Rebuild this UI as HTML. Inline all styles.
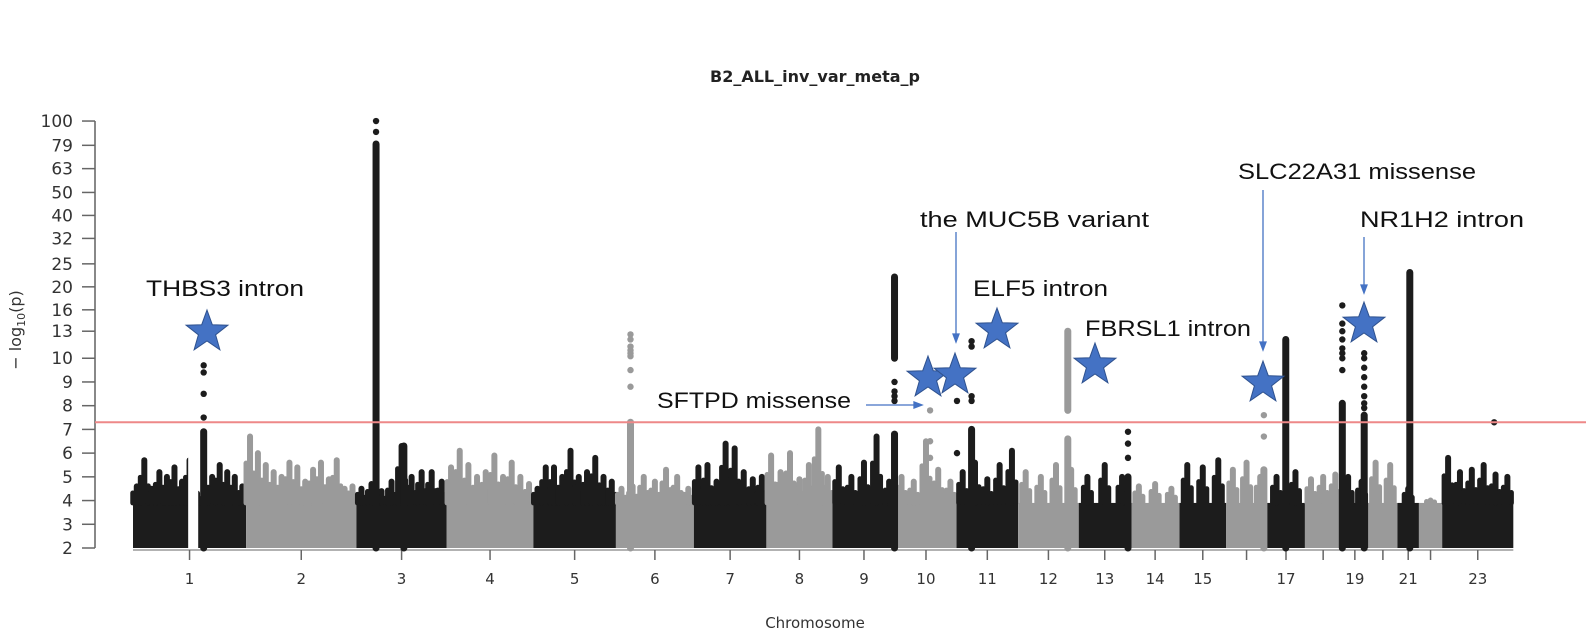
<!DOCTYPE html>
<html><head><meta charset="utf-8"><style>
html,body{margin:0;padding:0;background:#fff;}
svg{display:block;}
text{font-family:"DejaVu Sans","Liberation Sans",sans-serif;}
.ann{font-family:"Liberation Sans",sans-serif;font-size:22px;fill:#111;}
</style></head><body>
<svg id="chart" width="1586" height="636" viewBox="0 0 1586 636" xmlns="http://www.w3.org/2000/svg">
<text x="815" y="82" text-anchor="middle" font-weight="bold" font-size="16" fill="#222">B2_ALL_inv_var_meta_p</text>
<text x="815" y="628" text-anchor="middle" font-size="15" fill="#333">Chromosome</text>
<text transform="translate(21,330) rotate(-90)" text-anchor="middle" font-size="16" fill="#333">− log<tspan font-size="11" dy="4">10</tspan><tspan dy="-4">(p)</tspan></text>
<g id="axes"></g>
<g id="marks"></g>
<line id="sigline" x1="95" x2="1586" stroke="#ee8888" stroke-width="2"/>
<g id="annotations">
<text class="ann" x="146" y="296" textLength="158" lengthAdjust="spacingAndGlyphs">THBS3 intron</text>
<text class="ann" x="657" y="408" textLength="194" lengthAdjust="spacingAndGlyphs">SFTPD missense</text>
<text class="ann" x="920" y="227" textLength="229" lengthAdjust="spacingAndGlyphs">the MUC5B variant</text>
<text class="ann" x="973" y="296" textLength="135" lengthAdjust="spacingAndGlyphs">ELF5 intron</text>
<text class="ann" x="1085" y="336" textLength="166" lengthAdjust="spacingAndGlyphs">FBRSL1 intron</text>
<text class="ann" x="1238" y="179" textLength="238" lengthAdjust="spacingAndGlyphs">SLC22A31 missense</text>
<text class="ann" x="1360" y="227" textLength="164" lengthAdjust="spacingAndGlyphs">NR1H2 intron</text>
<g stroke="#4472c4" stroke-width="1.3" fill="#4472c4">
<line x1="866" y1="405" x2="916" y2="405"/><polygon points="922,405 914,402 914,408"/>
<line x1="956" y1="232" x2="956" y2="336"/><polygon points="956,342 953,334 959,334"/>
<line x1="1263" y1="190" x2="1263" y2="344"/><polygon points="1263,350 1260,342 1266,342"/>
<line x1="1364" y1="237" x2="1364" y2="287"/><polygon points="1364,293 1361,285 1367,285"/>
</g>
<g id="stars"></g>
</g>
</svg>
<script>
const NS='http://www.w3.org/2000/svg';
const chrLabels=['1','2','3','4','5','6','7','8','9','10','11','12','13','14','15','16','17','18','19','20','21','22','23'];
const chrLengths=[248,242,198,190,181,171,159,145,138,134,135,133,114,107,102,90,83,80,59,64,47,51,156];
const shownLabels=['1','2','3','4','5','6','7','8','9','10','11','12','13','14','15','17','19','21','23'];
const yTicks=[2,3,4,5,6,7,8,9,10,13,16,20,25,32,40,50,63,79,100];
const sigThreshold=7.3;
const baseTop=3.9;
const chr1GapStart=121, chr1GapEnd=143;
const cloud1=[4.6,5.7,4.5,5.2,5.0,5.4,4.8,5.7,4.3,4.2,5.0,5.5,5.2,5.0,4.6];
const cloud2=[6.7,6.0,5.5,5.2,5.0,5.6,5.4,4.8,5.3,5.6,4.9,5.7,4.5,4.6];
const cloud3=[4.5,4.7,4.4,4.8,6.3,5.0,5.2,5.2,4.8];
const cloud4=[5.4,6.1,5.5,5.0,5.2,5.9,5.0,5.6,5.0,4.7];
const cloud5=[4.5,5.4,5.4,5.0,6.1,5.0,5.2,5.8,5.0,4.8];
const cloud6=[4.5,4.6,5.0,4.8,5.3,5.0,4.5];
const cloud7=[5.4,5.5,4.8,6.4,6.2,5.2,4.9,5.0];
const cloud8=[5.9,5.2,6.0,4.9,5.5,7.0,5.0];
const cloud9=[5.4,5.0,5.6,6.7,4.8];
const cloud10=[5.0,4.8,6.5,5.3,4.8];
const cloud11=[5.2,5.6,4.9,5.5,6.1];
const cloud12=[5.2,5.0,5.5,5.3];
const cloud13=[5.0,5.5,5.0];
const cloud14=[4.6,4.7,4.5];
const cloud15=[5.5,5.4,5.7];
const cloud16=[5.3,5.6,5.0];
const cloud17=[5.0,5.2];
const cloud18=[4.9,5.0,5.1];
const cloud19=[5.0,4.8];
const cloud20=[5.6,5.5];
const cloud21=[4.5];
const cloud22=[4.0];
const cloud23=[5.8,5.2,5.3,5.5,5.1,5.0];
const clouds=[cloud1,cloud2,cloud3,cloud4,cloud5,cloud6,cloud7,cloud8,cloud9,cloud10,cloud11,cloud12,cloud13,cloud14,cloud15,cloud16,cloud17,cloud18,cloud19,cloud20,cloud21,cloud22,cloud23];
const colChr=[0,2,2,5,8,8,10,11,11,12,15,16,18,18,20];
const colPos=[155,43,104,32,136,136,33,109,109,108,83,41,2,50,27];
const colLo=[2,2,2,2,2,10,2,2,7.8,2,2,2,2,2,2];
const colHi=[6.9,80,6.3,7.3,6.8,22,7.0,6.6,13,5.0,5.3,12,8.1,7.6,23];
const ptChr=[0,0,0,0,2,2,5,5,5,5,5,5,5,5,8,8,8,8,9,9,9,10,10,10,10,10,10,11,11,12,12,12,15,15,18,18,18,18,18,18,18,18,18,18,18,18,18,18,18,18,22];
const ptPos=[155,155,155,155,43,43,32,32,32,32,32,32,32,32,136,136,136,136,76,76,76,1,1,33,33,33,33,109,109,108,108,108,83,83,2,2,2,2,2,2,2,2,50,50,50,50,50,50,50,50,114];
const ptVal=[7.5,8.5,9.4,9.7,90,100,8.8,9.5,10.2,10.5,10.8,11.2,12,12.6,8.2,8.4,8.6,9.0,7.8,6.5,5.8,8.2,6.0,8.2,8.4,11.2,11.8,8.2,8.6,5.8,6.4,6.9,7.6,6.7,9.5,10,10.5,11,12,13,14,16.7,10.5,10,9.6,9.2,8.8,8.4,8.1,7.9,7.3];

const X0=133,PXMB=0.456,YB=548,YSTEP=23.72;
const chrStart=[];let acc=0;for(const L of chrLengths){chrStart.push(acc);acc+=L;}
function xScale(ci,pos){return X0+(chrStart[ci]+pos)*PXMB;}
function yScale(v){const idx=v<=10?v-2:8+10*Math.log10(v/10);return YB-idx*YSTEP;}
function colorOf(ci){return ci%2===0?'#1c1c1c':'#9a9a9a';}
function mk(tag,attrs,parent){const e=document.createElementNS(NS,tag);for(const k in attrs)e.setAttribute(k,attrs[k]);parent.appendChild(e);return e;}

const axes=document.getElementById('axes');
const marks=document.getElementById('marks');
const yl=mk('line',{x1:95,x2:95,y1:yScale(100),y2:YB,stroke:'#888','stroke-width':2},axes);


yTicks.forEach(v=>{
  const y=yScale(v);
  const t=mk('line',{x1:82,x2:95,y1:y,y2:y,stroke:'#666','stroke-width':1.5},axes);
  
  
  const lb=mk('text',{x:73,y:y+6,'text-anchor':'end','font-size':17,fill:'#333'},axes);
  
  
  lb.textContent=v;
});
const xl=mk('line',{x1:X0,x2:xScale(22,chrLengths[22]),y1:YB+2,y2:YB+2,stroke:'#999','stroke-width':1.5},axes);


chrLabels.forEach((c,ci)=>{
  const x=xScale(ci,chrLengths[ci]/2);
  const t=mk('line',{x1:x,x2:x,y1:YB+2,y2:YB+12,stroke:'#666','stroke-width':1.5},axes);
  
  
  if(shownLabels.includes(c)){
    const lb=mk('text',{x:x,y:584,'text-anchor':'middle','font-size':15,fill:'#333'},axes);
    
    
    lb.textContent=c;
  }
});
clouds.forEach((arr,ci)=>{
  const g=mk('g',{fill:colorOf(ci),stroke:colorOf(ci)},marks);
  
  
  const x1=xScale(ci,0),x2=xScale(ci,chrLengths[ci]);
  const r=mk('rect',{x:x1,y:yScale(baseTop),width:x2-x1,height:YB-yScale(baseTop),stroke:'none'},g);
  
  
  const n=arr.length;
  arr.forEach((v,i)=>{
    const x=x1+(x2-x1)*(i+0.5)/n;
    const s=mk('line',{x1:x,x2:x,y1:yScale(baseTop),y2:yScale(v),'stroke-width':6,'stroke-linecap':'round'},g);
    
    
    const s2=mk('line',{x1:x-4,x2:x-4,y1:yScale(baseTop),y2:yScale(baseTop+(v-baseTop)*0.6),'stroke-width':5,'stroke-linecap':'round'},g);
    
    
    const s3=mk('line',{x1:x+4,x2:x+4,y1:yScale(baseTop),y2:yScale(baseTop+(v-baseTop)*0.4),'stroke-width':5,'stroke-linecap':'round'},g);
    
    
  });
});
const gap=mk('rect',{x:xScale(0,chr1GapStart),y:yScale(6),width:(chr1GapEnd-chr1GapStart)*PXMB,height:YB-yScale(6),fill:'#fff'},marks);


colChr.forEach((ci,i)=>{
  const x=xScale(ci,colPos[i]);
  const c=mk('line',{x1:x,x2:x,y1:yScale(colLo[i]),y2:yScale(colHi[i]),stroke:colorOf(ci),'stroke-width':7,'stroke-linecap':'round'},marks);
  
  
});
ptChr.forEach((ci,i)=>{
  const p=mk('circle',{cx:xScale(ci,ptPos[i]),cy:yScale(ptVal[i]),r:3.2,fill:colorOf(ci)},marks);
  
  
});
const sl=document.getElementById('sigline');
sl.setAttribute('y1',yScale(sigThreshold));sl.setAttribute('y2',yScale(sigThreshold));
const starPos=[[207,332,'thbs3-star'],[928,378,'sftpd-star'],[955,375,'muc5b-star'],[997,330,'elf5-star'],[1095,365,'fbrsl1-star'],[1263,383,'slc22a31-star'],[1364,324,'nr1h2-star']];
const sg=document.getElementById('stars');
starPos.forEach(([cx,cy,nm])=>{
  const pts=[];for(let k=0;k<10;k++){const a=-Math.PI/2+k*Math.PI/5;const rr=k%2?9:22;pts.push((cx+rr*Math.cos(a)).toFixed(1)+','+(cy+rr*Math.sin(a)).toFixed(1));}
  const s=mk('polygon',{points:pts.join(' '),fill:'#4472c4',stroke:'#2f528f','stroke-width':1},sg);
  
  
});
</script>
</body></html>
